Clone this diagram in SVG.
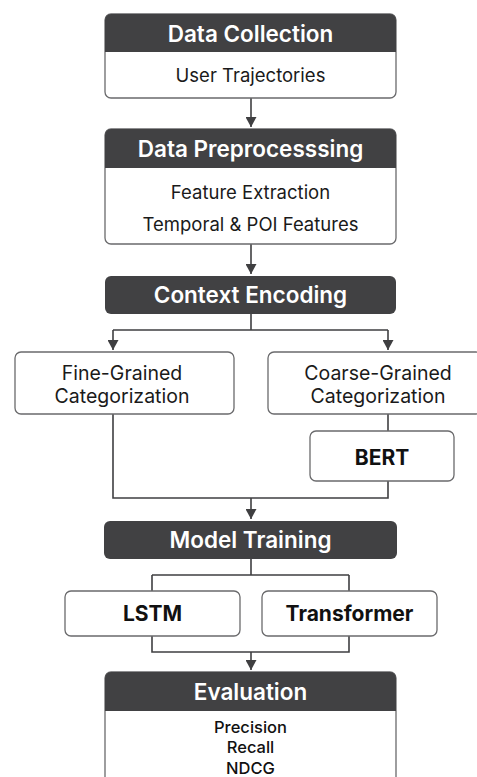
<svg xmlns="http://www.w3.org/2000/svg" width="477" height="777" viewBox="0 0 477 777">
<defs>
<marker id="a" markerWidth="11" markerHeight="11" refX="5.5" refY="10" orient="0" markerUnits="userSpaceOnUse" viewBox="0 0 11 11">
<path d="M0,0 L11,0 L5.5,10 z" fill="#3f3f41"/>
</marker>
</defs>
<style>
.box{fill:#fff;stroke:#6a6a6c;stroke-width:1.3}
.hdr{fill:#414143}
.ht{font-family:Inter,"Noto Sans",sans-serif;font-weight:600;font-size:22.5px;fill:#fff;text-anchor:middle}
.bt{font-family:Inter,"Noto Sans",sans-serif;font-weight:400;font-size:18.5px;fill:#1a1a1a;text-anchor:middle}
.ct{font-family:Inter,"Noto Sans",sans-serif;font-weight:400;font-size:19.5px;fill:#1a1a1a;text-anchor:middle}
.bb{font-family:Inter,"Noto Sans",sans-serif;font-weight:700;font-size:21px;fill:#111;text-anchor:middle}
.em{font-family:Inter,"Noto Sans",sans-serif;font-weight:500;font-size:16.5px;fill:#111;text-anchor:middle}
.ln{fill:none;stroke:#3f3f41;stroke-width:1.6}
</style>
<rect width="477" height="777" fill="#fff"/>
<g id="connectors">
<path class="ln" d="M251,98 V127" marker-end="url(#a)"/>
<path class="ln" d="M251,244 V274" marker-end="url(#a)"/>
<path class="ln" d="M251,314 V330 M113,330 H388"/>
<path class="ln" d="M113,330 V350" marker-end="url(#a)"/>
<path class="ln" d="M388,330 V350" marker-end="url(#a)"/>
<path class="ln" d="M388,414 V431"/>
<path class="ln" d="M113,414 V498 H388 V481"/>
<path class="ln" d="M251,498 V519" marker-end="url(#a)"/>
<path class="ln" d="M251,559 V575 M152,575 H349 M152,575 V591 M349,575 V591"/>
<path class="ln" d="M152,636 V652 H349 V636"/>
<path class="ln" d="M251,652 V670" marker-end="url(#a)"/>
</g>
<g id="data-collection">
<rect class="box" x="105" y="14" width="291" height="84" rx="6"/>
<path class="hdr" d="M105,52 V20 a6,6 0 0 1 6,-6 H390 a6,6 0 0 1 6,6 V52 Z"/>
<text class="ht" x="250.5" y="42">Data Collection</text>
<text class="bt" x="250.5" y="82">User Trajectories</text>
</g>
<g id="data-preprocessing">
<rect class="box" x="105" y="129" width="291" height="115" rx="6"/>
<path class="hdr" d="M105,168 V135 a6,6 0 0 1 6,-6 H390 a6,6 0 0 1 6,6 V168 Z"/>
<text class="ht" x="250.5" y="157">Data Preprocesssing</text>
<text class="bt" x="250.5" y="199">Feature Extraction</text>
<text class="bt" x="250.5" y="231">Temporal &amp; POI Features</text>
</g>
<g id="context-encoding">
<rect class="hdr" x="105" y="276" width="291" height="38" rx="6"/>
<text class="ht" x="250.5" y="303">Context Encoding</text>
</g>
<g id="fine-grained">
<rect class="box" x="15" y="352" width="219" height="62" rx="6"/>
<text class="ct" x="122" y="380">Fine-Grained</text>
<text class="ct" x="122" y="403">Categorization</text>
</g>
<g id="coarse-grained">
<rect class="box" x="268" y="352" width="214" height="62" rx="6"/>
<text class="ct" x="378" y="380">Coarse-Grained</text>
<text class="ct" x="378" y="403">Categorization</text>
</g>
<g id="bert">
<rect class="box" x="310" y="431" width="144" height="50" rx="6"/>
<text class="bb" x="382" y="464.5">BERT</text>
</g>
<g id="model-training">
<rect class="hdr" x="104" y="521" width="293" height="38" rx="6"/>
<text class="ht" x="250.5" y="548">Model Training</text>
</g>
<g id="lstm">
<rect class="box" x="65" y="591" width="175" height="45" rx="6"/>
<text class="bb" x="152.5" y="621">LSTM</text>
</g>
<g id="transformer">
<rect class="box" x="262" y="591" width="175" height="45" rx="6"/>
<text class="bb" x="349.5" y="621">Transformer</text>
</g>
<g id="evaluation">
<rect class="box" x="105" y="672" width="291" height="130" rx="6"/>
<path class="hdr" d="M105,711 V678 a6,6 0 0 1 6,-6 H390 a6,6 0 0 1 6,6 V711 Z"/>
<text class="ht" x="250.5" y="700">Evaluation</text>
<text class="em" x="250.5" y="733">Precision</text>
<text class="em" x="250.5" y="753">Recall</text>
<text class="em" x="250.5" y="774">NDCG</text>
</g>
</svg>
